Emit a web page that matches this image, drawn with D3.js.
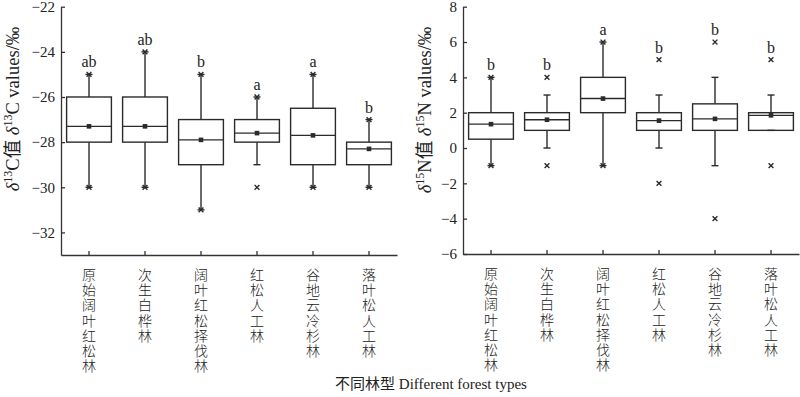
<!DOCTYPE html>
<meta charset="utf-8">
<style>
body { margin: 0; background: #fff; }
svg { display: block; }
.axis path, .axis line { stroke: #333; stroke-width: 1.3; }
.axis text { font-family: "Liberation Serif", serif; font-size: 15px; fill: #222; }
.box rect, .box line { stroke: #2b2b2b; stroke-width: 1.4; fill: none; }
.mk { stroke: #2b2b2b; stroke-width: 1.4; }
.letter { font-family: "Liberation Serif", serif; font-size: 16px; fill: #222; text-anchor: middle; }
.cat { font-family: "Noto Sans CJK SC", sans-serif; font-size: 14px; font-weight: 300; fill: #222; text-anchor: middle; }
.title { font-family: "Liberation Serif", "Noto Sans CJK SC", serif; font-size: 15px; fill: #222; }
.ytitle { font-family: "Liberation Serif", "Noto Sans CJK SC", serif; font-size: 18.5px; fill: #222; }
</style>
<svg width="800" height="397"></svg>
<script src="https://cdn.jsdelivr.net/npm/d3@7"></script>
<script>
var svg = d3.select("svg");

var cats = ["原始阔叶红松林", "次生白桦林", "阔叶红松择伐林", "红松人工林", "谷地云冷杉林", "落叶松人工林"];

// δ13C
var cQ1 = [-28, -28, -29, -28, -29, -29];
var cQ3 = [-26, -26, -27, -27, -26.5, -28];
var cMed = [-27.3, -27.3, -27.9, -27.6, -27.7, -28.3];
var cMean = [-27.3, -27.3, -27.9, -27.6, -27.7, -28.3];
var cLo = [-30, -30, -31, -29, -30, -30];
var cHi = [-25, -24, -25, -26, -25, -27];
var cMin = [-30, -30, -31, -30, -30, -30];
var cMax = [-25, -24, -25, -26, -25, -27];
var cLetters = ["ab", "ab", "b", "a", "a", "b"];
var cTicks = [-32, -30, -28, -26, -24, -22];

// δ15N
var nQ1 = [0.5, 1, 2, 1, 1, 1];
var nQ3 = [2, 2, 4, 2, 2.5, 2];
var nMed = [1.35, 1.6, 2.8, 1.55, 1.65, 1.85];
var nMean = [1.35, 1.6, 2.8, 1.55, 1.65, 1.85];
var nLo = [-1, 0, -1, 0, -1, 1];
var nHi = [4, 3, 6, 3, 4, 3];
var nMin = [-1, -1, -1, -2, -4, -1];
var nMax = [4, 4, 6, 5, 6, 5];
var nLetters = ["b", "b", "a", "b", "b", "b"];
var nTicks = [-6, -4, -2, 0, 2, 4, 6, 8];

function panel(opt) {
  var x = d3.scaleBand().domain(cats).range(opt.xr).paddingInner(0.2).paddingOuter(0.1);
  var y = d3.scaleLinear().domain(opt.dom).range([opt.bottom, 6.7]);
  var g = svg.append("g");

  g.append("g").attr("class", "axis")
      .attr("transform", "translate(0," + opt.bottom + ")")
      .call(d3.axisBottom(x).tickSize(-4).tickSizeOuter(0).tickFormat(""));
  g.append("g").attr("class", "axis")
      .attr("transform", "translate(" + opt.xr[0] + ",0)")
      .call(d3.axisLeft(y).tickValues(opt.ticks).tickSize(-4).tickSizeOuter(0).tickPadding(6)
        .tickFormat(function(d) { return d < 0 ? "\u2212" + (-d) : d; }));

  var bw = x.bandwidth();
  cats.forEach(function(c, i) {
    var cx = x(c) + bw / 2;
    var b = g.append("g").attr("class", "box");
    b.append("line").attr("x1", cx).attr("x2", cx).attr("y1", y(opt.q3[i])).attr("y2", y(opt.hi[i]));
    b.append("line").attr("x1", cx).attr("x2", cx).attr("y1", y(opt.q1[i])).attr("y2", y(opt.lo[i]));
    [opt.hi[i], opt.lo[i]].forEach(function(v) {
      b.append("line").attr("x1", cx - 3.5).attr("x2", cx + 3.5).attr("y1", y(v)).attr("y2", y(v));
    });
    b.append("rect").attr("x", x(c)).attr("width", bw)
      .attr("y", y(opt.q3[i])).attr("height", y(opt.q1[i]) - y(opt.q3[i]));
    b.append("line").attr("x1", x(c)).attr("x2", x(c) + bw).attr("y1", y(opt.med[i])).attr("y2", y(opt.med[i]));
    g.append("rect").attr("x", cx - 2.3).attr("y", y(opt.mean[i]) - 2.3)
      .attr("width", 4.6).attr("height", 4.6).attr("fill", "#2b2b2b");
    [opt.min[i], opt.max[i]].forEach(function(v) {
      var yy = y(v), s = 2.4;
      g.append("path").attr("class", "mk")
        .attr("d", "M" + (cx - s) + "," + (yy - s) + "L" + (cx + s) + "," + (yy + s) +
                   "M" + (cx - s) + "," + (yy + s) + "L" + (cx + s) + "," + (yy - s));
    });
    g.append("text").attr("class", "letter").attr("x", cx).attr("y", y(opt.max[i]) - 7).text(opt.letters[i]);
    // vertical category label, one character per line
    var lab = g.append("text").attr("class", "cat");
    c.split("").forEach(function(ch, k) {
      lab.append("tspan").attr("x", cx).attr("y", opt.bottom + 25 + k * 15.2).text(ch);
    });
  });

  var t = g.append("text").attr("class", "ytitle").attr("text-anchor", "middle")
      .attr("transform", "translate(" + opt.tx + "," + opt.ty + ") rotate(-90)");
  var iso = opt.iso;
  t.append("tspan").attr("font-style", "italic").text("δ");
  t.append("tspan").attr("font-size", "12px").attr("dy", -7).text(iso);
  t.append("tspan").attr("dy", 7).text(opt.el + "值 ");
  t.append("tspan").attr("font-style", "italic").text("δ");
  t.append("tspan").attr("font-size", "12px").attr("dy", -7).text(iso);
  t.append("tspan").attr("dy", 7).text(opt.el + " values/‰");
}

panel({ xr: [61, 397], dom: [-33, -22], bottom: 255, ticks: cTicks,
  q1: cQ1, q3: cQ3, med: cMed, mean: cMean, lo: cLo, hi: cHi, min: cMin, max: cMax,
  letters: cLetters, tx: 19, ty: 109, iso: "13", el: "C" });

panel({ xr: [463, 799], dom: [-6, 8], bottom: 254, ticks: nTicks,
  q1: nQ1, q3: nQ3, med: nMed, mean: nMean, lo: nLo, hi: nHi, min: nMin, max: nMax,
  letters: nLetters, tx: 431, ty: 110, iso: "15", el: "N" });

svg.append("text").attr("class", "title").attr("text-anchor", "middle")
  .attr("x", 431).attr("y", 389).text("不同林型 Different forest types");
</script>
